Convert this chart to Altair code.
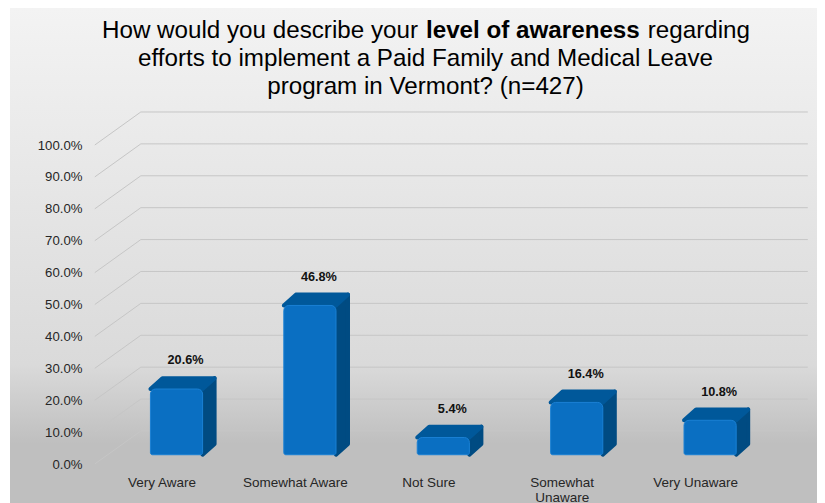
import json
import altair as alt

categories = ["Very Aware", "Somewhat Aware", "Not Sure", "Somewhat Unaware", "Very Unaware"]
axis_labels = ["Very Aware", "Somewhat Aware", "Not Sure", ["Somewhat", "Unaware"], "Very Unaware"]
values = [20.6, 46.8, 5.4, 16.4, 10.8]
ticks = [0, 10, 20, 30, 40, 50, 60, 70, 80, 90, 100]
title_left = "How would you describe your "
title_bold = "level of awareness"
title_right = " regarding"
title_line2 = "efforts to implement a Paid Family and Medical Leave"
title_line3 = "program in Vermont? (n=427)"

FONT = "Liberation Sans"
W, H = 809, 495
WALL_DX, WALL_DY = 0.345, 10.35      # depth of the floor, in axis units
BAR_L, BAR_R = -0.083, 0.308
BAR_BASE = 2.9
BAR_DX, BAR_DY = 0.09, 3.4
FRONT, SIDE, TOP, RIM = "#0a6fc2", "#004b82", "#00589a", "#1a80d4"

x_scale = alt.Scale(domain=[-0.5, 4.5], range=[86.8, 753.8], nice=False, zero=False)
y_scale = alt.Scale(domain=[0, 100], range=[456, 137], nice=False, zero=False)
label_expr = "[" + ",".join(json.dumps(l) for l in axis_labels) + "][datum.value]"
x_axis = alt.Axis(
    values=list(range(5)), labelExpr=label_expr, grid=False, domain=False, ticks=False,
    labelFont=FONT, labelFontSize=13.5, labelColor="#262626", labelPadding=0,
    labelLineHeight=15, labelBaseline="top", offset=-28, zindex=1, labelOverlap=False,
    labelFlush=False, labelAngle=0,
)
y_axis = alt.Axis(
    values=ticks, labelExpr="format(datum.value, '.1f') + '%'", grid=False, domain=False,
    ticks=False, labelFont=FONT, labelFontSize=13.2, labelColor="#262626", labelPadding=2,
    offset=-76, zindex=1, labelOverlap=False, labelFlush=False,
)
X = lambda f="x": alt.X(f, type="quantitative", scale=x_scale, title=None, axis=x_axis)
Y = lambda f="y": alt.Y(f, type="quantitative", scale=y_scale, title=None, stack=None, axis=y_axis)

# Panel
panel = alt.Chart(alt.Data(values=[{"a": 1}])).mark_rect(
    color=alt.Gradient(
        gradient="linear", x1=0, y1=0, x2=0, y2=1,
        stops=[
            alt.GradientStop(offset=0, color="#f3f3f3"),
            alt.GradientStop(offset=0.72, color="#dadada"),
            alt.GradientStop(offset=0.88, color="#bfbfbf"),
            alt.GradientStop(offset=1, color="#bfbfbf"),
        ],
    )
).encode(x=alt.value(2), x2=alt.value(W), y=alt.value(0), y2=alt.value(H))

# Wall gridlines
grid_rows = []
for t in ticks:
    grid_rows += [
        {"t": t, "k": 0, "x": -0.5, "y": t},
        {"t": t, "k": 1, "x": -0.5 + WALL_DX, "y": t + WALL_DY},
        {"t": t, "k": 2, "x": 4.5 + WALL_DX, "y": t + WALL_DY},
    ]
grid = alt.Chart(alt.Data(values=grid_rows)).mark_line(color="#c6c6c6", strokeWidth=1).encode(
    x=X(), y=Y(), detail=alt.Detail("t:N"), order=alt.Order("k:Q"),
)

# 3D bars
front_rows, side_rows, top_rows, label_rows = [], [], [], []
for i, (c, v) in enumerate(zip(categories, values)):
    l, r = i + BAR_L, i + BAR_R
    b, t = BAR_BASE, BAR_BASE + v
    front_rows.append({"c": c, "x": l, "x2": r, "y": t, "y2": b})
    side_rows += [
        {"c": c, "x": r, "y": t, "y2": b},
        {"c": c, "x": r + BAR_DX, "y": t + BAR_DY, "y2": b + BAR_DY},
    ]
    top_rows += [
        {"c": c, "x": l, "y": t, "y2": t},
        {"c": c, "x": l + BAR_DX, "y": t + BAR_DY, "y2": t},
        {"c": c, "x": r, "y": t + BAR_DY, "y2": t},
        {"c": c, "x": r + BAR_DX, "y": t + BAR_DY, "y2": t + BAR_DY},
    ]
    label_rows.append({"x": i + 0.18, "y": v + 11.9, "text": f"{v:.1f}%"})

side = alt.Chart(alt.Data(values=side_rows)).mark_area(
    color=SIDE, stroke=SIDE, strokeWidth=4, strokeJoin="round"
).encode(x=X(), y=Y(), y2="y2:Q", detail=alt.Detail("c:N"))

top = alt.Chart(alt.Data(values=top_rows)).mark_area(
    color=TOP, stroke=TOP, strokeWidth=4, strokeJoin="round"
).encode(x=X(), y=Y(), y2="y2:Q", detail=alt.Detail("c:N"))

front = alt.Chart(alt.Data(values=front_rows)).mark_rect(
    color=FRONT, stroke=RIM, strokeWidth=1, cornerRadiusTopLeft=5, cornerRadiusTopRight=5,
    cornerRadiusBottomLeft=2, cornerRadiusBottomRight=2,
).encode(x=X(), x2="x2:Q", y=Y(), y2="y2:Q")

labels = alt.Chart(alt.Data(values=label_rows)).mark_text(
    font=FONT, fontSize=12.7, fontWeight="bold", color="#111111", baseline="middle"
).encode(x=X(), y=Y(), text="text:N")

# Title, with its bold run
def title_text(text, x, y, align, weight="normal"):
    return alt.Chart(alt.Data(values=[{"t": text}])).mark_text(
        font=FONT, fontSize=24.2, fontWeight=weight, color="#000000", align=align, baseline="middle"
    ).encode(x=alt.value(x), y=alt.value(y), text="t:N")

titles = [
    title_text(title_left, 94, 23, "left"),
    title_text(title_bold, 418, 23, "left", "bold"),
    title_text(title_right, 742, 23, "right"),
    title_text(title_line2, 417.5, 51, "center"),
    title_text(title_line3, 417.5, 79, "center"),
]

chart = alt.layer(panel, grid, side, top, front, labels, *titles).properties(
    width=W, height=H, padding=0, background="white",
    autosize=alt.AutoSizeParams(type="none"),
).configure_view(stroke=None)

chart.save("out.html", embed_options={"renderer": "svg", "actions": False})
